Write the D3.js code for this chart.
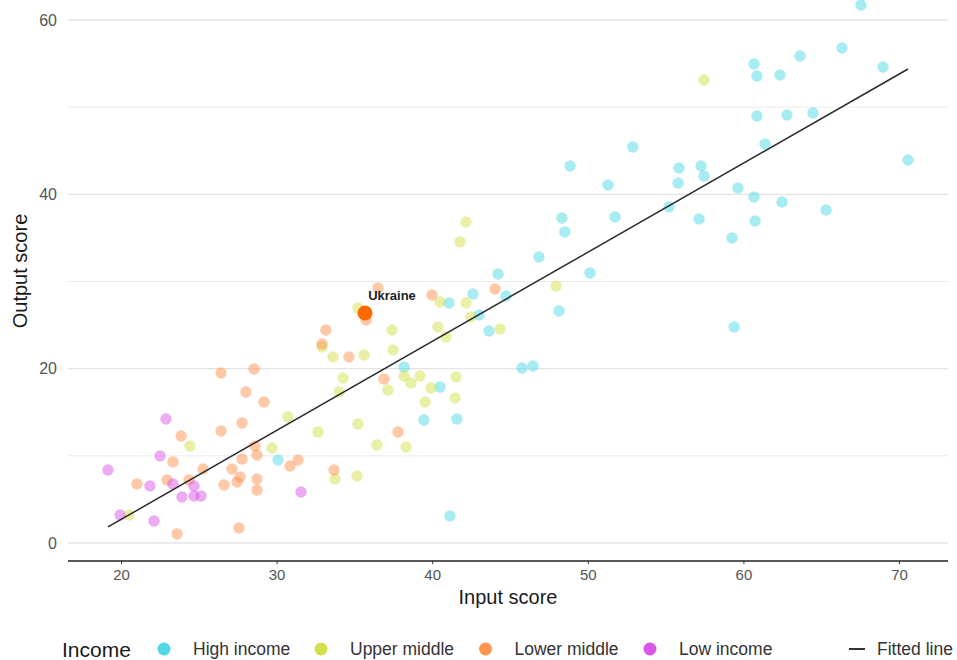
<!DOCTYPE html>
<html><head><meta charset="utf-8">
<script src="https://cdn.jsdelivr.net/npm/d3@7"></script>
<style>body{margin:0;background:#fff;} text{font-family:"Liberation Sans",Arial,Helvetica,sans-serif;}</style>
</head><body><svg id="c" width="957" height="660"></svg>
<script>
// ---- data ----
const incomeGroups = ["High income","Upper middle","Lower middle","Low income"];
const groupColors  = ["#4FD8E8","#D4DF4A","#FF944F","#D957E8"];

const highX = [67.56,66.34,63.64,60.68,60.87,62.35,68.97,60.87,62.80,64.47,61.39,70.58,59.65,60.68,62.48,65.31,60.75,59.27,52.90,48.86,55.86,57.28,57.47,55.80,51.30,55.22,51.75,57.15,48.34,48.53,46.86,50.14,44.23,42.62,44.74,41.08,43.01,43.65,48.15,59.40,38.19,45.77,46.48,40.50,39.47,41.59,30.09,41.14];
const highY = [61.72,56.79,55.87,54.95,53.57,53.69,54.61,48.98,49.10,49.33,45.77,43.94,40.73,39.69,39.12,38.20,36.94,34.99,45.43,43.25,43.02,43.25,42.10,41.30,41.07,38.55,37.40,37.17,37.28,35.68,32.81,30.97,30.86,28.56,28.34,27.53,26.16,24.32,26.61,24.78,20.19,20.08,20.31,17.90,14.11,14.23,9.52,3.10];

const upperX = [57.47,42.17,41.79,47.96,40.50,42.17,42.49,40.37,40.89,44.36,35.23,37.42,32.92,33.62,35.62,37.48,34.27,34.01,37.16,38.19,39.22,38.64,39.92,41.53,41.47,39.54,30.73,32.66,35.23,36.45,38.32,24.43,29.70,20.51,33.75,35.17];
const upperY = [53.11,36.82,34.53,29.48,27.65,27.53,25.93,24.78,23.63,24.55,26.96,24.43,22.48,21.34,21.57,22.14,18.93,17.32,17.55,19.16,19.16,18.35,17.78,19.04,16.63,16.18,14.45,12.73,13.65,11.24,11.01,11.13,10.90,3.21,7.34,7.69];

const lowerX = [36.52,39.99,44.04,33.17,32.92,34.65,35.75,36.90,37.80,26.43,28.55,28.03,29.19,27.78,26.43,23.86,23.34,28.61,28.74,27.78,31.38,30.86,33.69,25.27,27.13,21.03,22.96,24.37,27.65,27.46,26.62,28.74,28.74,23.60,27.58];
const lowerY = [29.25,28.45,29.14,24.43,22.83,21.34,25.58,18.81,12.73,19.50,19.96,17.32,16.18,13.77,12.85,12.27,9.29,11.13,10.10,9.64,9.52,8.83,8.37,8.49,8.49,6.77,7.23,7.23,7.57,7.00,6.65,7.34,6.08,1.03,1.72];

const lowX = [22.89,22.51,19.16,21.86,23.34,24.69,23.92,24.69,25.14,31.57,19.94,22.12];
const lowY = [14.23,9.98,8.37,6.54,6.77,6.54,5.28,5.39,5.39,5.85,3.21,2.52];

const highlightName = "Ukraine";
const highlightX = 35.68, highlightY = 26.39;

const fitX = [19.16, 70.58];
const fitY = [1.84, 54.38];

const xTicks = [20,30,40,50,60,70];
const yTicks = [0,20,40,60];
const yMinor = [10,30,50];

const xTitle = "Input score", yTitle = "Output score";
const legendTitle = "Income", fitLabel = "Fitted line";

// ---- drawing ----
const svg = d3.select("#c");
const panel = {left:68, right:948, top:0, bottom:561};
const x = d3.scaleLinear().domain([20,70]).range([121,899]);
const y = d3.scaleLinear().domain([0,60]).range([543,20]);

// grid
svg.append("g").selectAll("line").data(yMinor).join("line")
  .attr("x1",panel.left).attr("x2",panel.right)
  .attr("y1",d=>y(d)).attr("y2",d=>y(d))
  .attr("stroke","#ebebeb").attr("stroke-width",1);
svg.append("g").selectAll("line").data(yTicks).join("line")
  .attr("x1",panel.left).attr("x2",panel.right)
  .attr("y1",d=>y(d)).attr("y2",d=>y(d))
  .attr("stroke","#e3e3e3").attr("stroke-width",1.3);

// y tick labels
svg.append("g").selectAll("text").data(yTicks).join("text")
  .attr("x",57).attr("y",d=>y(d)).attr("dy","0.36em")
  .attr("text-anchor","end").attr("font-size",16).attr("fill","#555")
  .text(d=>d);

// x axis
const xAxis = d3.axisBottom(x).tickValues(xTicks).tickSize(3).tickPadding(5);
const gx = svg.append("g").attr("transform",`translate(0,${panel.bottom})`).call(xAxis);
gx.select(".domain").remove();
gx.selectAll(".tick line").attr("stroke","#333");
gx.selectAll(".tick text").attr("font-size",15).attr("fill","#555")
  .attr("font-family",'"Liberation Sans",Arial,sans-serif');
svg.append("line").attr("x1",panel.left).attr("x2",panel.right)
  .attr("y1",panel.bottom).attr("y2",panel.bottom)
  .attr("stroke","#222").attr("stroke-width",1.6);

// titles
svg.append("text").attr("x",508).attr("y",604).attr("text-anchor","middle")
  .attr("font-size",20).attr("fill","#1a1a1a").text(xTitle);
svg.append("text").attr("transform","translate(27,271) rotate(-90)")
  .attr("text-anchor","middle").attr("font-size",20).attr("fill","#1a1a1a").text(yTitle);

// points
svg.append("clipPath").attr("id","clp").append("rect")
  .attr("x",panel.left).attr("y",panel.top).attr("width",panel.right-panel.left).attr("height",panel.bottom-panel.top);
const pts = svg.append("g").attr("clip-path","url(#clp)");
const groups = [[highX,highY],[upperX,upperY],[lowerX,lowerY],[lowX,lowY]];
groups.forEach(([gxs,gys],gi)=>{
  pts.append("g").selectAll("circle").data(d3.range(gxs.length)).join("circle")
    .attr("cx",i=>x(gxs[i])).attr("cy",i=>y(gys[i])).attr("r",5.7)
    .attr("fill",groupColors[gi]).attr("fill-opacity",0.5);
});

// fitted line
svg.append("line")
  .attr("x1",x(fitX[0])).attr("y1",y(fitY[0]))
  .attr("x2",x(fitX[1])).attr("y2",y(fitY[1]))
  .attr("stroke","#2b2b2b").attr("stroke-width",1.5);

// highlight
svg.append("circle").attr("cx",x(highlightX)).attr("cy",y(highlightY)).attr("r",7.5)
  .attr("fill","#FF6A00");
svg.append("text").attr("x",x(highlightX)+27).attr("y",y(highlightY)-13)
  .attr("text-anchor","middle").attr("font-size",13).attr("font-weight","bold")
  .attr("fill","#222").text(highlightName);

// legend
const ly = 649;
svg.append("text").attr("x",62).attr("y",ly).attr("dy","0.36em")
  .attr("font-size",21).attr("fill","#1a1a1a").text(legendTitle);
const labelX = [193,350,514.5,679];
const lg = svg.append("g");
incomeGroups.forEach((g,i)=>{
  lg.append("circle").attr("cx",labelX[i]-29).attr("cy",ly).attr("r",6.5).attr("fill",groupColors[i]);
  lg.append("text").attr("x",labelX[i]).attr("y",ly).attr("dy","0.36em")
    .attr("font-size",17.5).attr("fill","#333").text(g);
});
lg.append("line").attr("x1",849).attr("x2",865).attr("y1",ly).attr("y2",ly)
  .attr("stroke","#333").attr("stroke-width",2);
lg.append("text").attr("x",877).attr("y",ly).attr("dy","0.36em")
  .attr("font-size",17.5).attr("fill","#333").text(fitLabel);
</script>
</body></html>
